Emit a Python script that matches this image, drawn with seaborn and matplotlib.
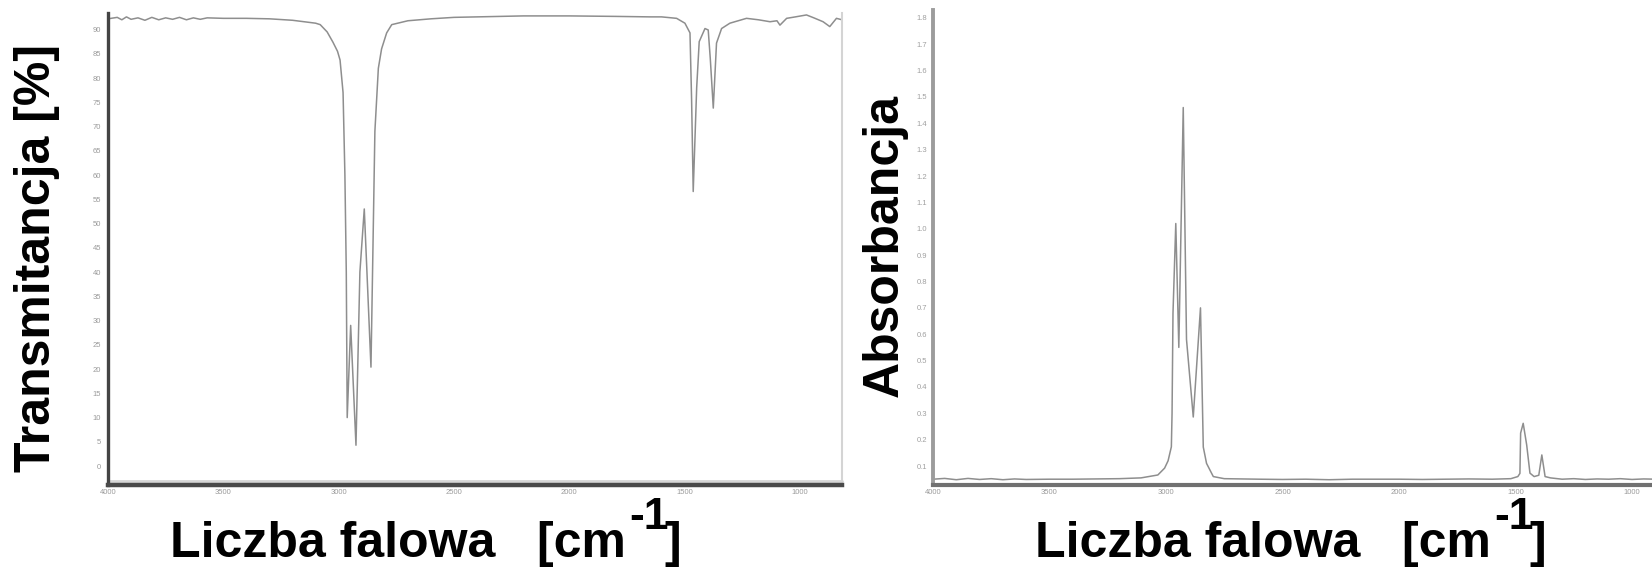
import matplotlib
matplotlib.use("Agg")
import matplotlib.pyplot as plt
import pandas as pd
import seaborn as sns

# Infrared transmission spectrum: wavenumber [cm^-1] and transmittance [%]
ir_wavenumber = [
    4000, 3960, 3940, 3920, 3900, 3870, 3840, 3810, 3780, 3750, 3720, 3690,
    3660, 3630, 3600, 3570, 3500, 3400, 3300, 3200, 3150, 3100, 3080, 3050,
    3025, 3005, 2994, 2981, 2973, 2967, 2963, 2948, 2925, 2908, 2889, 2860,
    2843, 2828, 2814, 2792, 2770, 2700, 2600, 2500, 2400, 2200, 2000, 1800,
    1650, 1600, 1535, 1499, 1477, 1470, 1463, 1448, 1437, 1412, 1398, 1389,
    1376, 1362, 1340, 1304, 1232, 1180, 1130, 1100, 1087, 1058, 1020, 972,
    940, 900, 871, 842, 818,
]
ir_transmittance = [
    92.2, 92.5, 92.0, 92.6, 92.1, 92.4, 91.9, 92.5, 92.0, 92.4, 92.1, 92.5,
    92.0, 92.4, 92.1, 92.4, 92.3, 92.3, 92.2, 91.9, 91.6, 91.3, 91.0, 89.5,
    87.4, 85.5, 83.7, 77.0, 60.0, 40.0, 10.0, 29.0, 4.3, 40.0, 53.0, 20.4,
    69.0, 82.0, 86.0, 89.3, 91.0, 91.8, 92.2, 92.5, 92.6, 92.8, 92.8, 92.7,
    92.6, 92.6, 92.3, 91.3, 89.3, 75.5, 56.6, 78.0, 87.5, 90.2, 89.9, 84.0,
    73.8, 87.2, 90.2, 91.3, 92.3, 92.0, 91.6, 91.8, 90.9, 92.3, 92.6, 93.0,
    92.4, 91.6, 90.6, 92.3, 92.0,
]

# Infrared absorption spectrum: wavenumber [cm^-1] and absorbance
abs_wavenumber = [
    4000, 3950, 3900, 3850, 3800, 3750, 3700, 3650, 3600, 3500, 3400, 3300,
    3200, 3107, 3035, 3006, 2991, 2977, 2974, 2970, 2958, 2945, 2926, 2912,
    2883, 2852, 2840, 2826, 2797, 2750, 2600, 2500, 2400, 2300, 2200, 2100,
    2000, 1900, 1800, 1700, 1600, 1520, 1490, 1481, 1478, 1467, 1452, 1438,
    1420, 1400, 1387, 1373, 1350, 1300, 1250, 1200, 1150, 1100, 1050, 1000,
    950, 897,
]
abs_absorbance = [
    0.050, 0.053, 0.048, 0.053, 0.049, 0.052, 0.048, 0.051, 0.049, 0.050, 0.050, 0.051,
    0.052, 0.055, 0.066, 0.092, 0.120, 0.173, 0.300, 0.680, 1.020, 0.550, 1.460, 0.580,
    0.286, 0.700, 0.172, 0.110, 0.060, 0.052, 0.050, 0.049, 0.050, 0.048, 0.050, 0.050,
    0.050, 0.049, 0.050, 0.051, 0.050, 0.052, 0.060, 0.072, 0.225, 0.262, 0.180, 0.073,
    0.060, 0.065, 0.142, 0.060, 0.055, 0.050, 0.052, 0.049, 0.051, 0.050, 0.052, 0.049,
    0.051, 0.050,
]

x_ticks = [4000, 3500, 3000, 2500, 2000, 1500, 1000]
t_ticks = list(range(0, 95, 5))
a_ticks = [round(0.1 * k, 1) for k in range(1, 19)]
a_tick_labels = [f"{v:.1f}" for v in a_ticks]

x_title = "Liczba falowa   [cm"
x_title_sup = "-1"
t_title = "Transmitancja [%]"
a_title = "Absorbancja"

sns.set_theme(style="white")
plt.rcParams["font.family"] = ["Liberation Sans", "DejaVu Sans"]

W, H = 1652, 582
fig = plt.figure(figsize=(W / 100, H / 100), dpi=100)
fig.patch.set_facecolor("white")

ax1 = fig.add_axes([108 / W, 1 - 485 / H, (842 - 108) / W, (485 - 13) / H])
ax2 = fig.add_axes([933 / W, 1 - 485 / H, (1656 - 933) / W, (485 - 10) / H])

ir_df = pd.DataFrame({"wn": ir_wavenumber, "T": ir_transmittance})
abs_df = pd.DataFrame({"wn": abs_wavenumber, "A": abs_absorbance})

line_color = "#8e8e8e"
sns.lineplot(data=ir_df, x="wn", y="T", ax=ax1, sort=False, color=line_color, lw=1.1)
sns.lineplot(data=abs_df, x="wn", y="A", ax=ax2, sort=False, color=line_color, lw=1.1)

ax1.set_xlim(4000, 818)
ax1.set_ylim(-3.9, 93.4)
ax2.set_xlim(4000, 897)
ax2.set_ylim(0.028, 1.83)

for ax in (ax1, ax2):
    ax.set_xlabel("")
    ax.set_ylabel("")
    ax.set_xticks(x_ticks)
    ax.set_xticklabels([str(v) for v in x_ticks])
    ax.spines["top"].set_visible(False)
    ax.tick_params(axis="x", direction="in", length=4, width=1.5, color="#444444",
                   labelsize=5.5, labelcolor="#9a9a9a", pad=3)

ax1.set_yticks(t_ticks)
ax1.set_yticklabels([str(v) for v in t_ticks])
ax1.tick_params(axis="y", direction="out", length=3, width=1, color="#aaaaaa",
                labelsize=5.5, labelcolor="#9a9a9a", pad=2)
ax2.set_yticks(a_ticks)
ax2.set_yticklabels(a_tick_labels)
ax2.tick_params(axis="y", direction="in", length=2, width=1.5, color="#666666",
                labelsize=5.5, labelcolor="#a0a0a0", pad=4)

# axis frames: heavy dark left/bottom, pale right edge
ax1.spines["left"].set_color("#444444")
ax1.spines["left"].set_linewidth(2.4)
ax1.spines["bottom"].set_color("#4a4a4a")
ax1.spines["bottom"].set_linewidth(3.2)
ax1.spines["right"].set_color("#d4d4d4")
ax1.spines["right"].set_linewidth(1.5)
ax1.plot([0, 1], [0.0085, 0.0085], transform=ax1.transAxes, color="#d6d6d6", lw=2, clip_on=False)

ax2.spines["left"].set_color("#9c9c9c")
ax2.spines["left"].set_linewidth(2.8)
ax2.spines["bottom"].set_color("#707070")
ax2.spines["bottom"].set_linewidth(3.0)
ax2.spines["right"].set_visible(False)

title_font = dict(fontsize=36, fontweight="bold", color="black")
sup_font = dict(fontsize=32, fontweight="bold", color="black")


def wavenumber_title(x_px, base_px):
    y = 1 - base_px / H
    t1 = fig.text(x_px / W, y, x_title, ha="left", va="baseline", **title_font)
    fig.canvas.draw()
    bb = t1.get_window_extent()
    t2 = fig.text((bb.x1 + 3) / W, y + 28 / H, x_title_sup, ha="left", va="baseline", **sup_font)
    fig.canvas.draw()
    bb2 = t2.get_window_extent()
    fig.text((bb2.x1 - 4) / W, y, "]", ha="left", va="baseline", **title_font)


wavenumber_title(170, 557)
wavenumber_title(1035, 557)

fig.text(37 / W, 1 - 258 / H, t_title, rotation=90, ha="center", va="center",
         fontsize=36, fontweight="bold", color="black")
fig.text(885 / W, 1 - 245 / H, a_title, rotation=90, ha="center", va="center",
         fontsize=36, fontweight="bold", color="black")

fig.savefig("out.png", dpi=100, facecolor="white")
